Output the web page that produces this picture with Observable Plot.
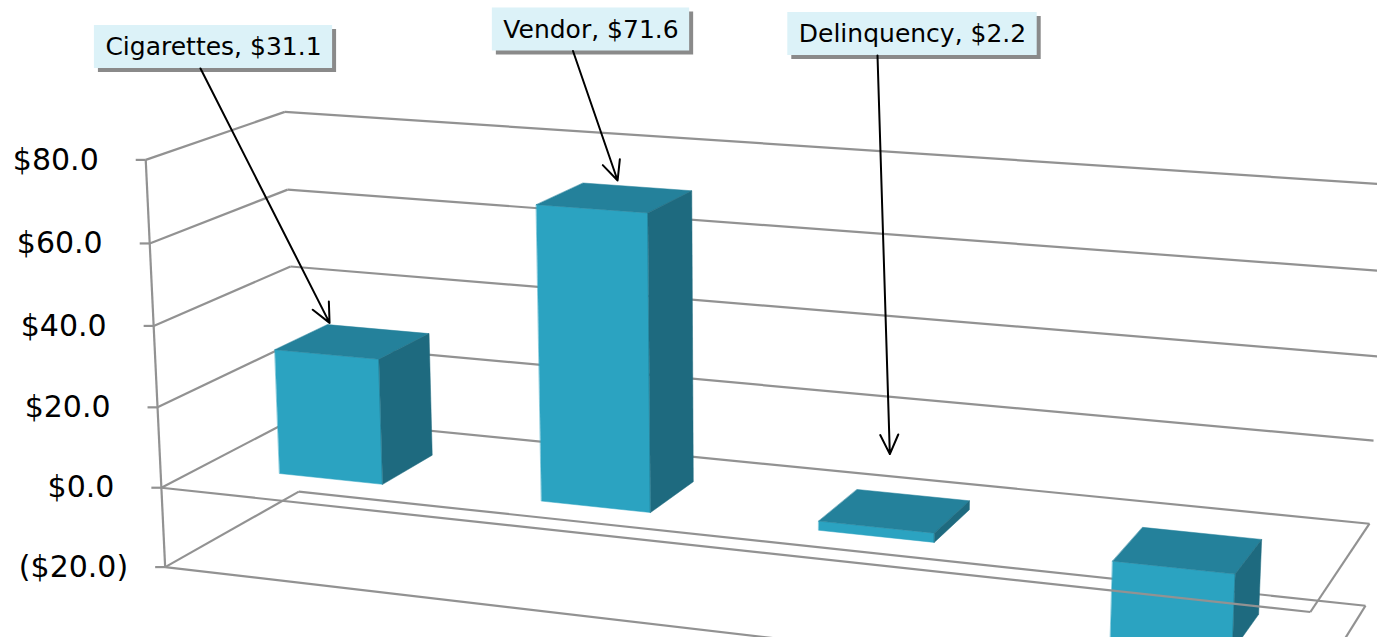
<!DOCTYPE html>
<html><head><meta charset="utf-8">
<script src="https://cdn.jsdelivr.net/npm/d3@7"></script>
<script src="https://cdn.jsdelivr.net/npm/@observablehq/plot@0.6"></script>
<style>html,body{margin:0;padding:0;background:#fff;overflow:hidden}</style>
</head><body><div id="chart"></div>
<script>
// ---------- DATA ----------
const categories = ["Cigarettes", "Vendor", "Delinquency", "Other"];
const values = [31.1, 71.6, 2.2, -18.0];
const labelled = [true, true, true, false];
const yTicks = [-20, 0, 20, 40, 60, 80];

// ---------- LAYOUT ----------
const W = 1377, H = 637;
// world scales: category axis 0..4 (left wall to right edge), value axis -> height 0..5, depth 0 (front) .. 1 (back wall)
const xScale = Plot.scale({x: {type: "band", domain: categories, range: [0, 4], paddingInner: 0.6, paddingOuter: 0.3, round: false}});
const yScale = Plot.scale({y: {type: "linear", domain: [-20, 80], range: [0, 5]}});
const zFront = 0.3, zBack = 0.7;

// perspective camera (3x4 projection, normalised image coordinates centred at 700,400 / 500px)
const P = [0.536905, -0.000755, 0.206167, -1.070685, 0.049970, -0.159831, -0.137024, 0.333173, -0.027842, -0.006327, 0.076129];
function project(X, val, Z) {
  const Y = yScale.apply(val);
  const d = P[8] * X + P[9] * Y + P[10] * Z + 1;
  return [700 + 500 * (P[0] * X + P[1] * Y + P[2] * Z + P[3]) / d, 400 + 500 * (P[4] * X + P[5] * Y + P[6] * Z + P[7]) / d];
}
const seg = (a, b) => { const [x1, y1] = project(...a), [x2, y2] = project(...b); return {x1, y1, x2, y2}; };

// walls (behind bars)
const back = [];
for (const t of yTicks) { back.push(seg([0, t, 0], [0, t, 1])); back.push(seg([0, t, 1], [4, t, 1])); }
back.push(seg([0, -20, 0], [0, 80, 0]));
// floor edges in front of bars
const front = [seg([0, 0, 0], [4, 0, 0]), seg([4, 0, 0], [4, 0, 1]), seg([0, -20, 0], [4, -20, 0]), seg([4, -20, 0], [4, -20, 1])];

// bars
const FRONT = "#2ba3c1", TOP = "#24819b", SIDE = "#1e6a7f";
const faces = [];
categories.forEach((c, i) => {
  const x0 = xScale.apply(c), x1 = x0 + xScale.bandwidth;
  const lo = Math.min(0, values[i]), hi = Math.max(0, values[i]);
  const add = (pts, color, k) => pts.forEach(p => { const [u, v] = project(...p); faces.push({u, v, id: c + k, color}); });
  add([[x0, lo, zFront], [x1, lo, zFront], [x1, hi, zFront], [x0, hi, zFront]], FRONT, "f");
  add([[x0, hi, zFront], [x1, hi, zFront], [x1, hi, zBack], [x0, hi, zBack]], TOP, "t");
  add([[x1, lo, zFront], [x1, lo, zBack], [x1, hi, zBack], [x1, hi, zFront]], SIDE, "s");
});

// axis ticks & labels
const ticks = yTicks.map(t => { const [u, v] = project(0, t, 0); return {u, v, t, label: t < 0 ? `($${Math.abs(t).toFixed(1)})` : `$${t.toFixed(1)}`}; });

// data label callouts
const boxCenter = [[213, 46.5], [590.5, 29], [912, 33.5]];
const arrowStartDx = [-13, -18, -35];
const arrowTip = [[0.02, 0.5], [0.32, 1.2], [0.29, 9.5]];
const ctx = document.createElement("canvas").getContext("2d");
ctx.font = "25px 'DejaVu Sans'";
const labels = [], arrows = [];
categories.forEach((c, i) => {
  if (!labelled[i]) return;
  const text = `${c}, $${values[i].toFixed(1)}`;
  const [cx, cy] = boxCenter[i];
  const w = ctx.measureText(text).width + 22, h = 43;
  labels.push({text, cx, cy, x1: cx - w / 2, x2: cx + w / 2, y1: cy - h / 2, y2: cy + h / 2});
  const x0 = xScale.apply(c);
  const [tu, tv] = project(x0 + arrowTip[i][0] * xScale.bandwidth, values[i] + arrowTip[i][1], zBack);
  arrows.push({x1: cx + arrowStartDx[i], y1: cy + h / 2, x2: tu, y2: tv});
});

const GRID = "#929292";
const chart = Plot.plot({
  width: W, height: H, margin: 0,
  x: {type: "identity", axis: null}, y: {type: "identity", axis: null},
  color: {type: "identity"},
  style: {fontFamily: "'DejaVu Sans'", background: "white"},
  marks: [
    Plot.link(back, {x1: "x1", y1: "y1", x2: "x2", y2: "y2", stroke: GRID, strokeWidth: 2.2}),
    Plot.link(ticks, {x1: d => d.u - 10, x2: "u", y1: "v", y2: "v", stroke: GRID, strokeWidth: 2.2}),
    Plot.text(ticks.filter(d => d.t >= 0), {x: d => d.u - 47, y: "v", text: "label", textAnchor: "end", fontSize: 30, fill: "#000"}),
    Plot.text(ticks.filter(d => d.t < 0), {x: d => d.u - 37, y: "v", text: "label", textAnchor: "end", fontSize: 30, fill: "#000"}),
    Plot.line(faces, {x: "u", y: "v", z: "id", fill: "color", stroke: "color", strokeWidth: 0.5, curve: "linear-closed"}),
    Plot.link(front, {x1: "x1", y1: "y1", x2: "x2", y2: "y2", stroke: GRID, strokeWidth: 2.2}),
    Plot.rect(labels, {x1: d => d.x1 + 4, x2: d => d.x2 + 4, y1: d => d.y1 + 4, y2: d => d.y2 + 4, fill: "#8a8a8a", ariaLabel: "label-shadow"}),
    Plot.rect(labels, {x1: "x1", x2: "x2", y1: "y1", y2: "y2", fill: "#dcf2f8"}),
    Plot.text(labels, {x: "cx", y: "cy", text: "text", fontSize: 25, fill: "#000"}),
    Plot.arrow(arrows, {x1: "x1", y1: "y1", x2: "x2", y2: "y2", stroke: "#000", strokeWidth: 2, headLength: 16, headAngle: 50})
  ]
});
const svg = d3.select(chart);
svg.append("defs").html('<filter id="blur" x="-10%" y="-10%" width="130%" height="140%"><feGaussianBlur stdDeviation="2.5"/></filter>');
svg.select('g[aria-label="label-shadow"]').attr("filter", "url(#blur)");
document.getElementById("chart").appendChild(chart);
</script></body></html>
